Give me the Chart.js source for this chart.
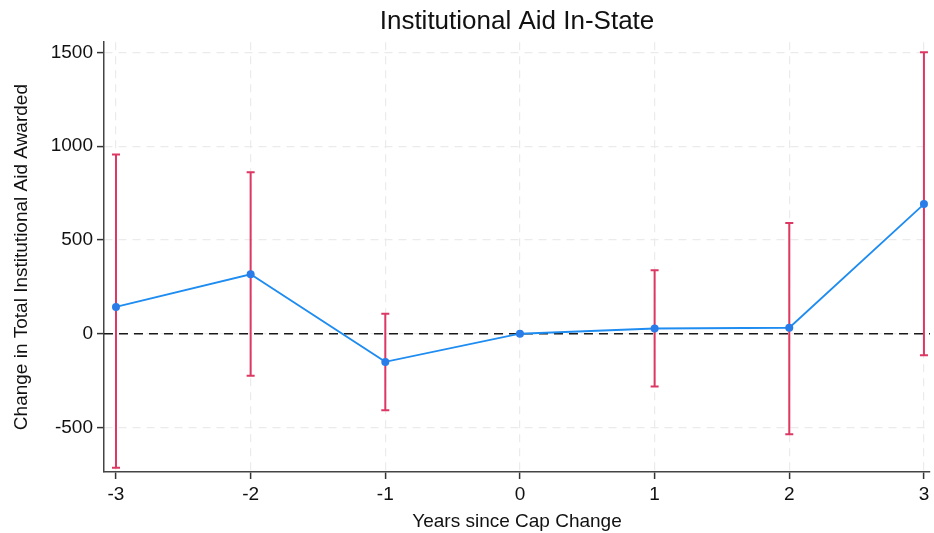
<!DOCTYPE html>
<html>
<head>
<meta charset="utf-8">
<script src="https://cdn.jsdelivr.net/npm/chart.js@4/dist/chart.umd.min.js"></script>
<style>
html,body{margin:0;padding:0;background:#fff;}
#wrap{width:934px;height:533px;position:relative;}
</style>
</head>
<body>
<div id="wrap"><canvas id="c" width="934" height="533"></canvas></div>
<script>
const years = [-3, -2, -1, 0, 1, 2, 3];
const estimates = [143, 317, -150, 0, 28, 32, 691];
const ciLow = [-714, -224, -408, null, -281, -536, -115];
const ciHigh = [955, 861, 106, null, 338, 590, 1500];
const xTicks = [-3, -2, -1, 0, 1, 2, 3];
const yTicks = [-500, 0, 500, 1000, 1500];

const FONT = "'Liberation Sans', Arial, sans-serif";

const errorBars = {
  id: 'errorBars',
  beforeDatasetsDraw(chart) {
    const {ctx, chartArea, scales: {x, y}} = chart;
    ctx.save();
    const y0 = y.getPixelForValue(0);
    ctx.strokeStyle = '#1a1a1a';
    ctx.lineWidth = 1.6;
    ctx.setLineDash([9, 6]);
    ctx.beginPath();
    ctx.moveTo(chartArea.left, y0);
    ctx.lineTo(chartArea.right, y0);
    ctx.stroke();
    ctx.setLineDash([]);
    ctx.strokeStyle = '#dc3863';
    ctx.lineWidth = 2;
    const cap = 4;
    years.forEach((yr, i) => {
      if (ciLow[i] === null || ciHigh[i] === null) return;
      const px = x.getPixelForValue(yr);
      const pl = y.getPixelForValue(ciLow[i]);
      const ph = y.getPixelForValue(ciHigh[i]);
      ctx.beginPath();
      ctx.moveTo(px, pl); ctx.lineTo(px, ph);
      ctx.moveTo(px - cap, pl); ctx.lineTo(px + cap, pl);
      ctx.moveTo(px - cap, ph); ctx.lineTo(px + cap, ph);
      ctx.stroke();
    });
    ctx.restore();
  }
};

new Chart(document.getElementById('c'), {
  type: 'line',
  data: {
    datasets: [{
      data: years.map((yr, i) => ({x: yr, y: estimates[i]})),
      borderColor: '#1e8cf0',
      backgroundColor: '#1e7fe8',
      borderWidth: 1.8,
      pointRadius: 4,
      pointBorderWidth: 0,
      pointBackgroundColor: '#2a7de8',
      tension: 0
    }]
  },
  options: {
    responsive: false,
    animation: false,
    layout: {padding: {left: 10, right: 4, top: 0, bottom: 0}},
    plugins: {
      legend: {display: false},
      tooltip: {enabled: false},
      title: {
        display: true,
        text: 'Institutional Aid In-State',
        fullSize: false,
        color: '#111',
        font: {family: FONT, size: 26, weight: 'normal'},
        padding: {top: 6, bottom: 5}
      }
    },
    scales: {
      x: {
        type: 'linear',
        min: -3.089,
        max: 3.045,
        afterBuildTicks: s => { s.ticks = xTicks.map(v => ({value: v})); },
        afterFit: s => { s.height = 61; },
        ticks: {color: '#111', font: {family: FONT, size: 19}, padding: 4, maxRotation: 0,
                callback: v => String(v)},
        grid: {color: '#ebebeb', lineWidth: 1.2, tickLength: 7, tickColor: '#333', tickWidth: 1.5},
        border: {display: true, color: '#444', width: 1.5, dash: [8, 6]},
        title: {display: true, text: 'Years since Cap Change', color: '#111', font: {family: FONT, size: 19}, padding: {top: 0, bottom: 0}}
      },
      y: {
        type: 'linear',
        min: -737,
        max: 1554,
        afterBuildTicks: s => { s.ticks = yTicks.map(v => ({value: v})); },
        afterFit: s => { s.width = 94; },
        ticks: {color: '#111', font: {family: FONT, size: 19}, padding: 4,
                callback: v => String(v)},
        grid: {color: '#ebebeb', lineWidth: 1.2, tickLength: 7, tickColor: '#333', tickWidth: 1.5},
        border: {display: true, color: '#444', width: 1.5, dash: [8, 6]},
        title: {display: true, text: 'Change in Total Institutional Aid Awarded', color: '#111', font: {family: FONT, size: 19}, padding: {top: 0, bottom: 0}}
      }
    }
  },
  plugins: [errorBars]
});
</script>
</body>
</html>
